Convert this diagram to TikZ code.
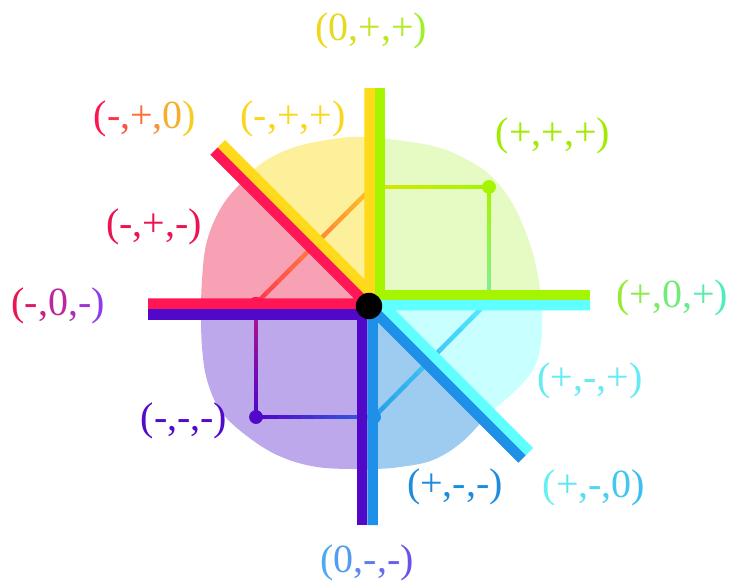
\documentclass[tikz,border=0pt]{standalone}
\usepackage{fontspec}
\setmainfont{Liberation Serif}
\usetikzlibrary{calc}
\definecolor{cRed}{RGB}{255,22,84}
\definecolor{cYel}{RGB}{255,218,26}
\definecolor{cGrn}{RGB}{166,245,0}
\definecolor{cCyn}{RGB}{96,255,255}
\definecolor{cBlu}{RGB}{30,144,232}
\definecolor{cPur}{RGB}{82,8,200}
\definecolor{fYel}{RGB}{253,240,154}
\definecolor{fRed}{RGB}{248,160,180}
\definecolor{fPur}{RGB}{190,168,236}
\definecolor{fBlu}{RGB}{157,204,240}
\definecolor{fCyn}{RGB}{200,255,255}
\definecolor{fGrn}{RGB}{230,250,196}
% label colours
\definecolor{tA1}{RGB}{240,215,30}\definecolor{tB1}{RGB}{160,240,40}
\definecolor{tA2}{RGB}{255,20,80}\definecolor{tB2}{RGB}{245,205,40}
\definecolor{tA6}{RGB}{235,20,80}\definecolor{tB6}{RGB}{140,60,235}
\definecolor{tA7}{RGB}{150,235,50}\definecolor{tB7}{RGB}{80,235,190}
\definecolor{tA11}{RGB}{100,240,240}\definecolor{tB11}{RGB}{60,190,240}
\definecolor{tA12}{RGB}{80,170,240}\definecolor{tB12}{RGB}{110,80,235}
\definecolor{t3}{RGB}{250,215,30}
\definecolor{t4}{RGB}{160,235,0}
\definecolor{t5}{RGB}{235,20,80}
\definecolor{t8}{RGB}{100,235,245}
\definecolor{t9}{RGB}{80,10,200}
\definecolor{t10}{RGB}{30,140,220}
% thin line colours
\definecolor{gYG}{RGB}{212,230,0}
\definecolor{gMint}{RGB}{130,240,140}
\definecolor{gRd}{RGB}{255,60,80}
\definecolor{gOr}{RGB}{255,185,40}
\definecolor{gMag}{RGB}{180,20,140}
\definecolor{gBl}{RGB}{50,90,225}
\definecolor{gSky}{RGB}{40,160,235}
\definecolor{gCy}{RGB}{80,230,255}
\newcommand\gc[2]{\textcolor{\gA!#1!\gB}{#2}}
\newcommand\gline[4]{%
  \foreach \i [evaluate=\i as \p using {100-100*\i/9}] in {0,...,9}{%
    \draw[thinln, color=#3!\p!#4] ($(#1)!\i/10!(#2)$) -- ($(#1)!\i/10+0.1!(#2)$);}}
\begin{document}
\begin{tikzpicture}[x=1pt,y=-1pt,
  band/.style={line width=10.5pt, line cap=butt, line join=miter},
  thinln/.style={line width=4.5pt, line cap=round},
  lab/.style={inner sep=0pt, font=\fontsize{40}{48}\selectfont},
  dotn/.style={circle, inner sep=0pt, minimum size=13.5pt}]
\useasboundingbox (0,0) rectangle (730,586);
\coordinate (C) at (369,306);
% blob
\def\blob{plot[smooth cycle, tension=0.6] coordinates {
 (365,137) (433,146) (473,163) (496,181) (515,208) (531,247) (539,282)
 (542,312) (541,343) (533,370) (513,393) (490,413) (462,442) (433,460)
 (400,467) (367,469) (317,467) (277,455) (243,433) (220,410) (207,380)
 (202,347) (201,310) (202,280) (205,250) (212,226) (224,203) (240,184)
 (262,163) (292,148) (327,140)}}
\begin{scope}\clip (C) -- ++(0,-500) -- ++(-500,0) -- cycle; \fill[fYel] \blob; \end{scope}
\begin{scope}\clip (C) -- ++(-500,-500) -- ++(0,500) -- cycle; \fill[fRed] \blob; \end{scope}
\begin{scope}\clip (C) -- ++(-500,0) -- ++(0,500) -- ++(500,0) -- cycle; \fill[fPur] \blob; \end{scope}
\begin{scope}\clip (C) -- ++(0,500) -- ++(500,0) -- cycle; \fill[fBlu] \blob; \end{scope}
\begin{scope}\clip (C) -- ++(500,500) -- ++(0,-500) -- cycle; \fill[fCyn] \blob; \end{scope}
\begin{scope}\clip (C) -- ++(500,0) -- ++(0,-500) -- ++(-500,0) -- cycle; \fill[fGrn] \blob; \end{scope}
% thin lines
\coordinate (g0) at (380,187);
\node[dotn, fill=cGrn] (gp) at (489,187) {};
\coordinate (g1) at (489,295.5);
\node[dotn, fill=cRed] (rp) at (256,303.5) {};
\coordinate (y0) at (369.5,190);
\node[dotn, fill=cPur] (pp) at (256,417) {};
\node[dotn, fill=cBlu] (bp) at (374,417) {};
\coordinate (c0) at (484.5,305);
\gline{g0}{gp.center}{gYG}{cGrn}
\gline{gp.center}{g1}{cGrn}{gMint}
\gline{rp.center}{y0}{gRd}{gOr}
\gline{rp.center}{pp.center}{gMag}{cPur}
\gline{pp.center}{bp.center}{cPur}{gBl}
\gline{bp.center}{c0}{gSky}{gCy}
\node[dotn, fill=cGrn] at (gp) {};
\node[dotn, fill=cPur] at (pp) {};
\node[dotn, fill=cBlu] at (bp) {};
% thick bands
\draw[band, cRed] (148,303.5) -- (366.5,303.5) -- (214,151);
\draw[band, cYel] (369.5,88) -- (369.5,291.7) -- (221.4,143.6);
\draw[band, cGrn] (380,88) -- (380,295.5) -- (590,295.5);
\draw[band, cCyn] (590,305) -- (382.8,305) -- (529.4,451.6);
\draw[band, cBlu] (372.5,525) -- (372.5,309.5) -- (522,459);
\draw[band, cPur] (148,314.5) -- (362,314.5) -- (362,525);
\fill[black] (C) circle (13.2);
% labels
\node[lab] (l1) at (371,31) {\def\gA{tA1}\def\gB{tB1}\gc{100}{(}\gc{83}{0}\gc{67}{,}\gc{50}{+}\gc{33}{,}\gc{17}{+}\gc{0}{)}};
\node[lab] (l2) at (145,119) {\def\gA{tA2}\def\gB{tB2}\gc{100}{(}\gc{83}{-}\gc{67}{,}\gc{50}{+}\gc{33}{,}\gc{17}{0}\gc{0}{)}};
\node[lab, text=t3] (l3) at (293,119) {(-,+,+)};
\node[lab, text=t4] (l4) at (553,136) {(+,+,+)};
\node[lab, text=t5] (l5) at (154,227) {(-,+,-)};
\node[lab] (l6) at (58,306) {\def\gA{tA6}\def\gB{tB6}\gc{100}{(}\gc{83}{-}\gc{67}{,}\gc{50}{0}\gc{33}{,}\gc{17}{-}\gc{0}{)}};
\node[lab] (l7) at (672,298) {\def\gA{tA7}\def\gB{tB7}\gc{100}{(}\gc{83}{+}\gc{67}{,}\gc{50}{0}\gc{33}{,}\gc{17}{+}\gc{0}{)}};
\node[lab, text=t8] (l8) at (590,381) {(+,-,+)};
\node[lab, text=t9] (l9) at (184,421) {(-,-,-)};
\node[lab, text=t10] (l10) at (455,487) {(+,-,-)};
\node[lab] (l11) at (594,488) {\def\gA{tA11}\def\gB{tB11}\gc{100}{(}\gc{83}{+}\gc{67}{,}\gc{50}{-}\gc{33}{,}\gc{17}{0}\gc{0}{)}};
\node[lab] (l12) at (367,563) {\def\gA{tA12}\def\gB{tB12}\gc{100}{(}\gc{83}{0}\gc{67}{,}\gc{50}{-}\gc{33}{,}\gc{17}{-}\gc{0}{)}};
\end{tikzpicture}
\end{document}
